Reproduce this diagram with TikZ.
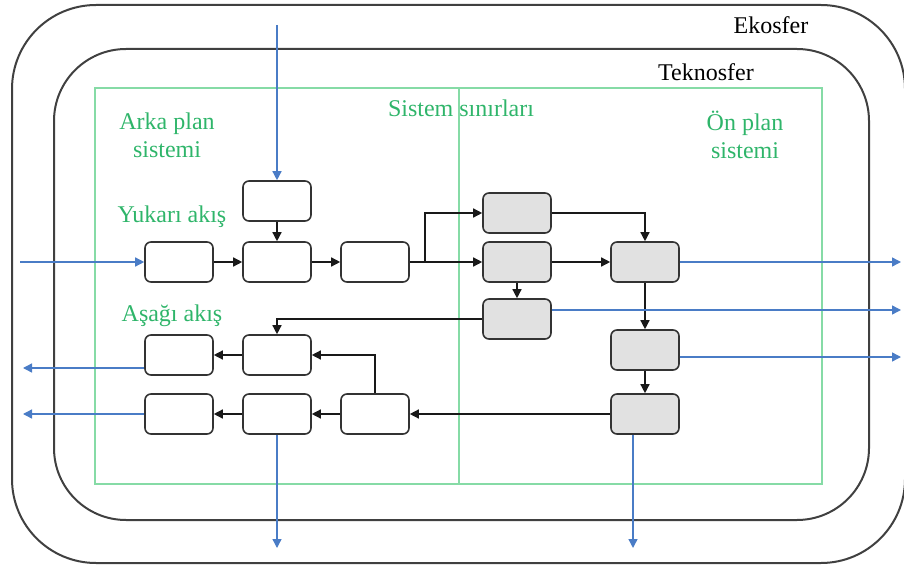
\documentclass[tikz,border=0pt]{standalone}
\usepackage{fontspec}
\setmainfont{Liberation Serif}
\usetikzlibrary{arrows.meta}
\definecolor{flowblue}{HTML}{4A7CC6}
\definecolor{sysgreen}{HTML}{86DBA6}
\definecolor{labgreen}{HTML}{2FB56A}
\definecolor{procgray}{HTML}{E1E1E1}
\tikzset{
  sphere/.style={draw=black!75, line width=1pt, rounded corners=#1},
  wbox/.style={draw=black!80, fill=white, line width=0.8pt, rounded corners=3pt,
    minimum width=34pt, minimum height=20pt, inner sep=0pt},
  gbox/.style={wbox, fill=procgray},
  blk/.style={draw=black!90, line width=0.7pt, -{Triangle[length=4.5pt,width=4.5pt]}},
  bl/.style={draw=flowblue, line width=0.7pt, -{Triangle[length=4.5pt,width=4.5pt]}},
  glab/.style={text=labgreen, font=\fontsize{12}{14}\selectfont, align=center, inner sep=0pt},
  klab/.style={text=black, font=\fontsize{12}{14}\selectfont, inner sep=0pt}
}
\begin{document}
\begin{tikzpicture}[x=0.5pt,y=-0.5pt]
\useasboundingbox (0,0) rectangle (904,572);

% spheres and system boundary
\draw[sphere=42pt] (12,5) rectangle (905,563);
\draw[sphere=36pt] (54,49) rectangle (869,520);
\draw[sysgreen, line width=0.7pt] (95,88) rectangle (822,484);
\draw[sysgreen, line width=0.7pt] (459,88) -- (459,484);

% labels
\node[klab] (eko) at (771,25) {Ekosfer};
\node[klab] (tekno) at (706,72) {Teknosfer};
\node[glab] (sinir) at (461,108) {Sistem sınırları};
\node[glab] (arka) at (167,135) {Arka plan\\sistemi};
\node[glab] (on) at (745,135) {Ön plan\\sistemi};
\node[glab] (yukari) at (172,217) {Yukarı akış};
\node[glab] (asagi) at (172,316) {Aşağı akış};

% background processes
\node[wbox] (t)  at (277,201) {};
\node[wbox] (a1) at (179,262) {};
\node[wbox] (a2) at (277,262) {};
\node[wbox] (a3) at (375,262) {};
\node[wbox] (l1) at (179,355) {};
\node[wbox] (l2) at (277,355) {};
\node[wbox] (c1) at (179,414) {};
\node[wbox] (c2) at (277,414) {};
\node[wbox] (c3) at (375,414) {};

% foreground processes
\node[gbox] (g1) at (517,213) {};
\node[gbox] (g2) at (517,262) {};
\node[gbox] (g3) at (517,319) {};
\node[gbox] (r1) at (645,262) {};
\node[gbox] (r2) at (645,350) {};
\node[gbox] (r3) at (645,414) {};

% free ends of the exchanges with the ecosphere
\coordinate (inT)  at (277,25);
\coordinate (inA)  at (20,262);
\coordinate (split) at (425,262);
\coordinate (oR1) at (901,262);
\coordinate (oG3) at (901,310);
\coordinate (oR2) at (901,357);
\coordinate (oL1) at (23,368);
\coordinate (oC1) at (23,414);
\coordinate (oC2) at (277,548);
\coordinate (oR3) at (633,548);

% material flows
\draw[blk] (t) -- (a2);
\draw[blk] (a1) -- (a2);
\draw[blk] (a2) -- (a3);
\draw[blk] (a3) -- (g2);
\draw[blk] (split) |- (g1);
\draw[blk] (g1.east) -| (r1.north);
\draw[blk] (g2) -- (r1);
\draw[blk] (g2) -- (g3);
\draw[blk] (r1) -- (r2);
\draw[blk] (r2) -- (r3);
\draw[blk] (g3.west) -| (l2.north);
\draw[blk] (r3) -- (c3);
\draw[blk] (c3.north) |- (l2.east);
\draw[blk] (c3) -- (c2);
\draw[blk] (c2) -- (c1);
\draw[blk] (l2) -- (l1);

% elementary flows
\draw[bl] (inT) -- (t.north);
\draw[bl] (inA) -- (a1.west);
\draw[bl] (r1.east) -- (oR1);
\draw[bl] (g3.east |- oG3) -- (oG3);
\draw[bl] (r2.east |- oR2) -- (oR2);
\draw[bl] (l1.west |- oL1) -- (oL1);
\draw[bl] (c1.west) -- (oC1);
\draw[bl] (c2.south) -- (oC2);
\draw[bl] (r3.south -| oR3) -- (oR3);
\end{tikzpicture}
\end{document}
